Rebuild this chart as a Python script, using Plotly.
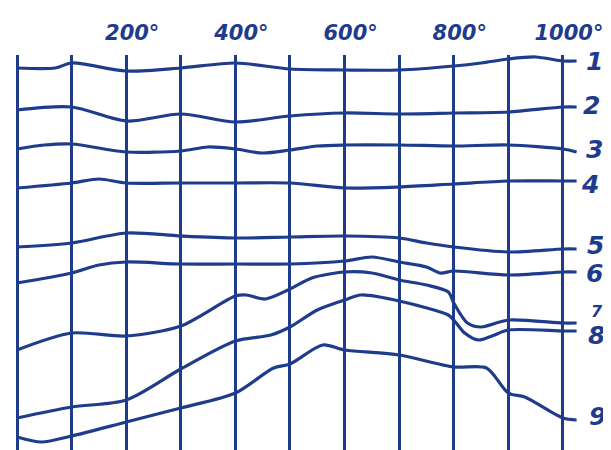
import plotly.graph_objects as go

# ---- data (temperature in degrees along x; curve level in arbitrary vertical units) ----
grid_x = [0, 100, 200, 300, 400, 500, 600, 700, 800, 900, 1000]
tick_text = ["", "", "200°", "", "400°", "", "600°", "", "800°", "", "1000°"]

c1_x = [0, 70, 100, 200, 300, 400, 500, 600, 700, 800, 850, 900, 950, 1000, 1025]
c1_y = [68, 68, 63, 71, 68, 63, 69, 70, 70, 66, 63, 59, 57, 61, 61]

c2_x = [0, 100, 200, 300, 400, 500, 600, 700, 800, 900, 1000, 1025]
c2_y = [110, 107, 121, 114, 122, 116, 113, 114, 113, 112, 107, 107]

c3_x = [0, 50, 100, 200, 300, 350, 400, 450, 500, 550, 600, 700, 800, 900, 1000, 1025]
c3_y = [149, 145, 144, 152, 151, 147, 149, 153, 150, 146, 145, 145, 146, 145, 149, 152]

c4_x = [0, 100, 150, 200, 300, 400, 500, 600, 700, 800, 900, 1000, 1025]
c4_y = [188, 183, 179, 183, 183, 183, 183, 188, 187, 184, 181, 181, 181]

c5_x = [0, 100, 200, 300, 400, 500, 600, 700, 750, 800, 900, 1000, 1025]
c5_y = [247, 243, 233, 236, 238, 237, 236, 238, 243, 247, 252, 249, 249]

c6_x = [0, 100, 150, 200, 300, 400, 500, 600, 650, 700, 750, 775, 800, 900, 1000, 1025]
c6_y = [283, 273, 265, 262, 264, 264, 264, 261, 257, 262, 267, 273, 271, 275, 272, 272]

c7_x = [0, 100, 200, 300, 400, 420, 455, 500, 540, 600, 650, 700, 750, 790, 800, 825, 850, 900, 1000, 1025]
c7_y = [350, 333, 336, 326, 296, 295, 299, 289, 278, 272, 273, 280, 285, 292, 303, 323, 327, 320, 323, 323]

c8_x = [0, 100, 200, 300, 400, 465, 500, 550, 600, 630, 700, 790, 800, 820, 845, 870, 900, 1000, 1025]
c8_y = [418, 407, 400, 369, 341, 335, 327, 310, 300, 295, 301, 315, 320, 333, 340, 336, 330, 331, 331]

c9_x = [0, 45, 100, 200, 300, 400, 470, 500, 560, 600, 700, 800, 860, 900, 930, 1000, 1025]
c9_y = [437, 442, 436, 422, 408, 393, 368, 364, 345, 350, 355, 367, 368, 393, 397, 418, 420]

curve_names = ["1", "2", "3", "4", "5", "6", "7", "8", "9"]
label_y = [61, 105, 149, 184, 245, 273, 311, 335, 416]
label_x = [1057, 1053, 1058, 1050, 1060, 1058, 1063, 1062, 1064]

# ---- figure ----
ink = "#1f3c8c"
paper = "#ffffff"

curves = [(c1_x, c1_y), (c2_x, c2_y), (c3_x, c3_y), (c4_x, c4_y), (c5_x, c5_y),
          (c6_x, c6_y), (c7_x, c7_y), (c8_x, c8_y), (c9_x, c9_y)]

fig = go.Figure()
for name, (xs, ys) in zip(curve_names, curves):
    fig.add_trace(go.Scatter(x=xs, y=ys, mode="lines", name=name,
                             line=dict(color=ink, width=3.2, shape="spline", smoothing=0.8),
                             hoverinfo="skip"))

for name, lx, ly in zip(curve_names, label_x, label_y):
    fig.add_annotation(x=lx, y=ly, text=name, showarrow=False, xanchor="center", yanchor="middle",
                       font=dict(family="DejaVu Sans", size=16 if name == "7" else 25,
                                 color=ink, style="italic", weight="bold"))

# the page body has an 8px margin, so the figure is 8px smaller than the window
fig.update_layout(
    width=603, height=442,
    margin=dict(l=0, r=0, t=47, b=0),
    paper_bgcolor=paper, plot_bgcolor=paper,
    showlegend=False,
    xaxis=dict(range=[-16.5, 1088], side="top", tickvals=grid_x, ticktext=tick_text,
               showgrid=True, gridcolor=ink, gridwidth=2.6, zeroline=False, showline=False,
               ticks="", ticklabelshift=6, ticklabelstandoff=10,
               tickfont=dict(family="DejaVu Sans", size=21, color=ink, style="italic",
                             weight="bold")),
    yaxis=dict(range=[450, 55], showgrid=False, zeroline=False, showline=False,
               showticklabels=False, ticks=""),
)

fig.write_html("out.html")
